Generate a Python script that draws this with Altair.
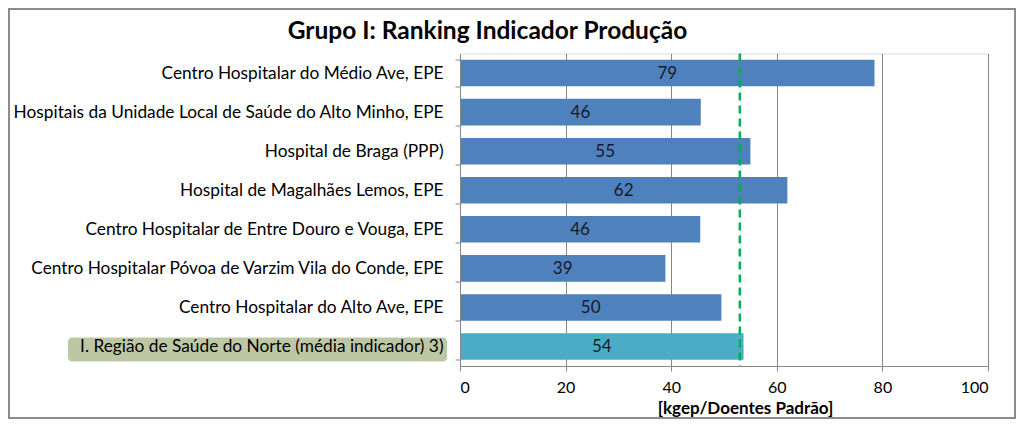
import altair as alt
import pandas as pd

categories = [
    "Centro Hospitalar do Médio Ave, EPE",
    "Hospitais da Unidade Local de Saúde do Alto Minho, EPE",
    "Hospital de Braga (PPP)",
    "Hospital de Magalhães Lemos, EPE",
    "Centro Hospitalar de Entre Douro e Vouga, EPE",
    "Centro Hospitalar Póvoa de Varzim Vila do Conde, EPE",
    "Centro Hospitalar do Alto Ave, EPE",
    "I. Região de Saúde do Norte (média indicador) 3)",
]
values = [78.5, 45.6, 55.0, 62.0, 45.5, 38.9, 49.5, 53.7]
labels = ["79", "46", "55", "62", "46", "39", "50", "54"]
kinds = ["hosp"] * 7 + ["regiao"]
reference = [53.0]
x_ticks = [0, 20, 40, 60, 80, 100]
chart_title = ["Grupo I: Ranking Indicador Produção"]

FONT = "Lato"

df = pd.DataFrame({"cat": categories, "value": values, "label": labels, "kind": kinds})
df["half"] = df["value"] / 2
ref_df = pd.DataFrame({"ref": reference})
frame_df = pd.DataFrame({"f": [0]})
title_df = pd.DataFrame({"t": chart_title})
hl_df = df[df["kind"] == "regiao"]

W, H = 528, 312.5

y_enc = alt.Y(
    "cat:N",
    sort=categories,
    scale=alt.Scale(paddingInner=0.32, paddingOuter=0.16),
    axis=alt.Axis(
        title=None,
        labelFont=FONT,
        labelFontSize=17.3,
        labelColor="#000000",
        labelPadding=12,
        labelLimit=600,
        tickBand="extent",
        tickSize=5,
        tickColor="#868686",
        domainColor="#868686",
        zindex=1,
    ),
)

x_scale = alt.Scale(domain=[0, 100], nice=False)

frame = alt.Chart(frame_df).mark_rect(
    filled=False, stroke="#8c8c8c", strokeWidth=2, clip=False
).encode(
    x=alt.value(-451), x2=alt.value(555), y=alt.value(-44.5), y2=alt.value(364.5)
)

title = alt.Chart(title_df).mark_text(
    font=FONT, fontSize=24.5, fontWeight="bold", color="#000000",
    align="center", baseline="alphabetic", clip=False
).encode(
    x=alt.value(27.5), y=alt.value(-15), text="t:N"
)

highlight = alt.Chart(hl_df).mark_bar(
    size=24, cornerRadius=4, color="#BEC7A4", clip=False, yOffset=3
).encode(
    y=y_enc,
    x=alt.value(-392),
    x2=alt.value(-13),
)

bars = alt.Chart(df).mark_bar().encode(
    y=y_enc,
    x=alt.X(
        "value:Q",
        scale=x_scale,
        axis=alt.Axis(
            title="[kgep/Doentes Padrão]",
            titleFont=FONT,
            titleFontSize=17,
            titleFontWeight="bold",
            titleColor="#000000",
            titlePadding=5,
            titleX=285,
            values=x_ticks,
            labelFont=FONT,
            labelFontSize=16,
            labelColor="#000000",
            labelPadding=8,
            tickSize=5,
            tickColor="#868686",
            domainColor="#868686",
            gridColor="#868686",
            grid=True,
        ),
    ),
    color=alt.Color(
        "kind:N",
        scale=alt.Scale(domain=["hosp", "regiao"], range=["#4F81BD", "#4BACC6"]),
        legend=None,
    ),
)

text = alt.Chart(df).mark_text(
    font=FONT, fontSize=17, color="#151a2a", align="center", baseline="middle", dy=1
).encode(
    y=alt.Y("cat:N", sort=categories),
    x=alt.X("half:Q", scale=x_scale),
    text="label:N",
)

rule = alt.Chart(ref_df).mark_rule(
    color="#00B050", strokeWidth=2.5, strokeDash=[8, 5]
).encode(x=alt.X("ref:Q", scale=x_scale))

chart = alt.layer(frame, title, highlight, bars, text, rule).properties(
    width=W,
    height=H,
    padding={"left": 452, "top": 45.5, "right": 28, "bottom": 53},
    autosize=alt.AutoSizeParams(type="none"),
).configure_view(stroke=None).configure(background="white")

chart.save("out.html", embed_options={"renderer": "svg", "actions": False})
